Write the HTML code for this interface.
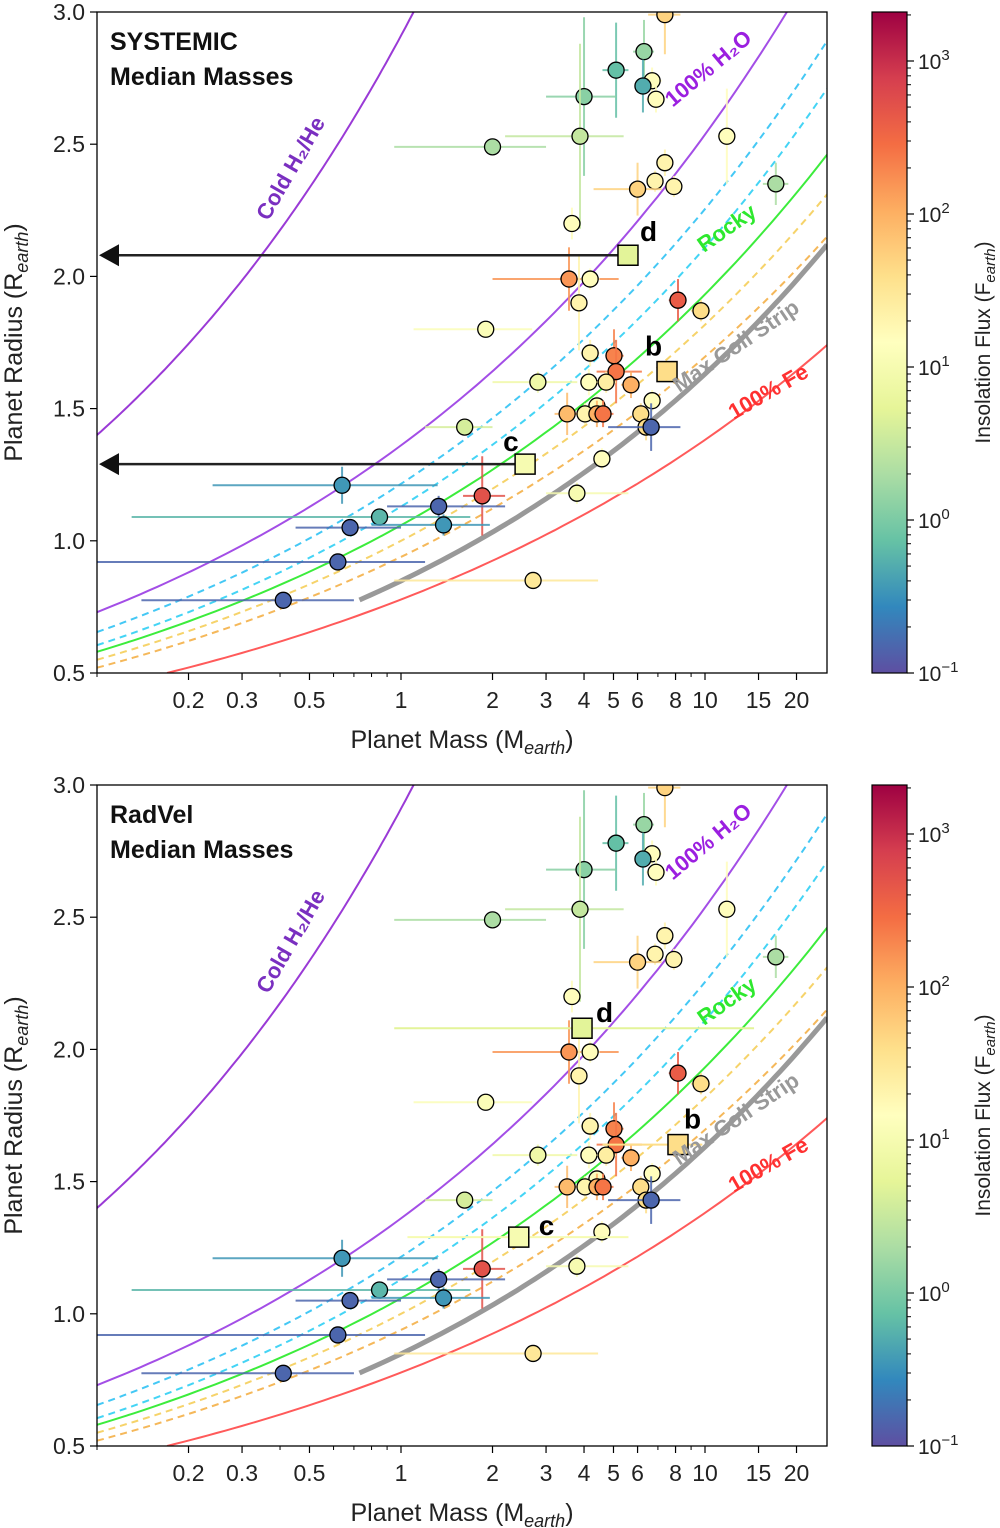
<!DOCTYPE html>
<html><head><meta charset="utf-8">
<style>
body{margin:0;background:#fff;}
svg{display:block;font-family:"Liberation Sans","DejaVu Sans",sans-serif;}
</style></head>
<body>
<svg id="chart" width="1000" height="1528" viewBox="0 0 1000 1528" xmlns="http://www.w3.org/2000/svg">
<defs>
<linearGradient id="cmap" x1="0" y1="1" x2="0" y2="0">
<stop offset="0" stop-color="#5e4fa2"/><stop offset="0.1" stop-color="#3288bd"/>
<stop offset="0.2" stop-color="#66c2a5"/><stop offset="0.3" stop-color="#abdda4"/>
<stop offset="0.4" stop-color="#e6f598"/><stop offset="0.5" stop-color="#ffffbf"/>
<stop offset="0.6" stop-color="#fee08b"/><stop offset="0.7" stop-color="#fdae61"/>
<stop offset="0.8" stop-color="#f46d43"/><stop offset="0.9" stop-color="#d53e4f"/>
<stop offset="1" stop-color="#9e0142"/>
</linearGradient>
</defs>
</svg>
<script>
// ---- data ----
const planetMass = [7.38,6.3,5.1,6.7,6.25,6.9,4.0,3.88,2.0,11.8,7.38,6.85,7.9,6.0,17.1,3.65,3.57,4.19,3.85,8.15,9.7,1.9,4.19,5.02,5.1,2.82,4.15,4.73,5.71,6.7,4.41,3.52,4.03,4.41,4.62,6.15,6.4,6.65,1.62,4.58,1.85,3.79,0.64,0.85,1.33,1.38,0.68,0.62,2.72,0.41];
const planetRadius = [2.99,2.85,2.78,2.74,2.72,2.67,2.68,2.53,2.49,2.53,2.43,2.36,2.34,2.33,2.35,2.20,1.99,1.99,1.90,1.91,1.87,1.80,1.71,1.70,1.64,1.60,1.60,1.60,1.59,1.53,1.51,1.48,1.48,1.48,1.48,1.48,1.43,1.43,1.43,1.31,1.17,1.18,1.21,1.09,1.13,1.06,1.05,0.92,0.85,0.775];
const planetFlux = [50,1.5,0.7,15,0.5,15,1.2,3,2,15,20,20,20,50,2,15,150,15,20,400,40,12,20,200,250,8,15,25,100,15,15,80,20,100,250,40,40,0.15,4,15,500,10,0.35,0.6,0.15,0.35,0.15,0.15,30,0.15];
const massLo = [6.5,5.8,4.6,6.2,5.9,6.4,3.0,2.2,0.95,11.0,7.0,6.5,7.5,4.3,15.5,3.5,2.0,3.9,3.6,7.6,9.0,1.1,3.9,4.7,4.4,2.0,3.9,4.4,5.3,6.3,4.1,3.2,3.8,4.2,4.3,5.8,6.0,4.8,1.2,4.3,1.6,3.0,0.24,0.13,0.9,0.8,0.45,0.1,0.95,0.14];
const massHi = [8.3,6.8,5.6,7.2,6.6,7.4,5.1,5.4,3.0,12.6,7.8,7.2,8.3,7.2,18.8,3.8,5.2,4.5,4.1,8.7,10.4,2.7,4.5,5.4,6.2,3.8,4.4,5.1,6.1,7.1,4.7,3.9,4.3,4.6,5.0,6.5,6.8,8.3,2.0,4.9,2.2,5.6,1.32,1.69,2.2,1.96,1.0,1.2,4.45,0.7];
const radErr = [0.15,0.12,0.18,0.05,0.1,0.05,0.3,0.35,0.03,0.18,0.05,0.04,0.04,0.1,0.08,0.06,0.12,0.04,0.18,0.08,0.04,0.03,0.05,0.1,0.12,0.04,0.05,0.04,0.05,0.04,0.04,0.08,0.04,0.05,0.05,0.04,0.05,0.09,0.03,0.04,0.15,0.04,0.07,0.03,0.04,0.04,0.03,0.03,0.03,0.03];
// target planets b, c, d
const targetNames = ["d","b","c"];
const targetRadius = [2.08,1.64,1.29];
const targetFlux = [5,40,10];
const targetMassSystemic = [5.58,7.5,2.56];
const targetMassRadVel = [3.94,8.15,2.44];
const targetLoRadVel = [0.95,4.6,1.05];
const targetHiRadVel = [14.5,9.8,5.6];
// composition curves: [mass, radius] endpoints
const curveNames = ["cold-h2he","h2o-100","h2o-50-dashed","h2o-25-dashed","rocky","rocky-fe-dashed-1","rocky-fe-dashed-2","max-coll-strip","fe-100"];
const curveP1 = [[0.1,1.4],[0.1,0.73],[0.1,0.655],[0.1,0.605],[0.1,0.58],[0.1,0.55],[0.1,0.52],[0.73,0.776],[0.17,0.5]];
const curveP2 = [[1.1,3.0],[18.6,3.0],[25.2,2.89],[25.2,2.71],[25.2,2.46],[25.2,2.31],[25.2,2.15],[25.2,2.12],[25.2,1.74]];
const xTicks = [0.2,0.3,0.5,1,2,3,4,5,6,8,10,15,20];
const yTicks = [0.5,1.0,1.5,2.0,2.5,3.0];
const cbTicks = [-1,0,1,2,3];

// ---- helpers ----
const NS="http://www.w3.org/2000/svg";
const svg=document.getElementById('chart');
function mk(tag,attrs,parent){const e=document.createElementNS(NS,tag);for(const k in attrs)e.setAttribute(k,attrs[k]);(parent||svg).appendChild(e);return e;}
const X0=97,X1=827;
const xS=m=>401+304*Math.log10(m);
const stops=[[94,79,162],[50,136,189],[102,194,165],[171,221,164],[230,245,152],[255,255,191],[254,224,139],[253,174,97],[244,109,67],[213,62,79],[158,1,66]];
function cmap(f){let t=(Math.log10(f)+1)/4.31;t=Math.max(0,Math.min(1,t))*10;const i=Math.min(9,Math.floor(t)),u=t-i;const a=stops[i],b=stops[i+1];return `rgb(${a.map((v,k)=>Math.round(v+(b[k]-v)*u)).join(',')})`;}
const curveColors=["#9a3ad6","#a34ee6","#44c8f5","#44d4f5","#3cec3c","#f6d36a","#f5b85a","#999999","#ff5a5a"];
const curveDash=["","","7,5","7,5","","7,5","7,5","",""];
const curveWidth=[2,2,2,2,2,2,2,5,2];

function panel(top, title, masses, tLo, tHi, arrows, labelPos){
  const Y0=top, H=661;
  const yS=r=>Y0+H-(r-0.5)*(H/2.5);
  const g=mk('g',{});
  
  
  const clipId='clip'+top;
  const cp=mk('clipPath',{id:clipId},g);mk('rect',{x:X0,y:Y0,width:X1-X0,height:H},cp);
  const plot=mk('g',{'clip-path':`url(#${clipId})`},g);
  
  
  curveNames.forEach((n,i)=>{
    const [m1,r1]=curveP1[i],[m2,r2]=curveP2[i];
    const b=Math.log(r2/r1)/Math.log(m2/m1);
    let d='';
    for(let k=0;k<=80;k++){const lm=Math.log10(m1)+(Math.log10(m2)-Math.log10(m1))*k/80;const m=10**lm;const r=r1*Math.pow(m/m1,b);d+=(k?'L':'M')+xS(m).toFixed(1)+','+yS(r).toFixed(1);}
    const p=mk('path',{d,fill:'none',stroke:curveColors[i],'stroke-width':curveWidth[i],'stroke-dasharray':curveDash[i]},plot);
    
    
  });
  planetMass.forEach((m,i)=>{
    const c=cmap(planetFlux[i]);const x=xS(m),y=yS(planetRadius[i]);
    const eg=mk('g',{stroke:c,'stroke-width':2,opacity:0.85},plot);
    mk('line',{x1:xS(massLo[i]),x2:xS(massHi[i]),y1:y,y2:y},eg);
    mk('line',{x1:x,x2:x,y1:yS(planetRadius[i]-radErr[i]),y2:yS(planetRadius[i]+radErr[i])},eg);
    const ci=mk('circle',{cx:x,cy:y,r:8,fill:c,stroke:'#000','stroke-width':1.3},plot);
    
    
  });
  masses.forEach((m,i)=>{
    const c=cmap(targetFlux[i]);const x=xS(m),y=yS(targetRadius[i]);
    if(tLo){mk('line',{x1:xS(tLo[i]),x2:xS(tHi[i]),y1:y,y2:y,stroke:c,'stroke-width':2},plot);}
    if(arrows && i!==1){
      const a=mk('line',{x1:x,y1:y,x2:X0+20,y2:y,stroke:'#222','stroke-width':2.5},plot);
      
      
      mk('polygon',{points:`${X0+2},${y} ${X0+22},${y-11} ${X0+22},${y+11}`,fill:'#111'},plot);
    }
    const s=mk('rect',{x:x-10,y:y-10,width:20,height:20,fill:c,stroke:'#000','stroke-width':1.5},plot);
    
    
    const t=mk('text',{x:x+labelPos[i][0],y:y+labelPos[i][1],'font-size':28,'font-weight':'bold',fill:'#000'},g);
    t.textContent=targetNames[i];
    
    
  });
  const labs=[["Cold H₂/He",297,172,-60,"#7a2fc0",'cold-h2he-label'],["100% H₂O",713,74,-40,"#9b1fe0",'h2o-label'],["Rocky",731,234,-35,"#2ee82e",'rocky-label'],["Max Coll Strip",740,352,-34,"#999",'max-coll-label'],["100% Fe",772,398,-30,"#ff3030",'fe-label']];
  labs.forEach(l=>{const yy=l[2]+Y0-12;const t=mk('text',{x:l[1],y:yy,'font-size':22,'font-weight':'bold',fill:l[4],'text-anchor':'middle',transform:`rotate(${l[3]} ${l[1]} ${yy})`},g);t.textContent=l[0];
    
    });
  mk('rect',{x:X0,y:Y0,width:X1-X0,height:H,fill:'none',stroke:'#000','stroke-width':1.3},g);
  title.forEach((s,i)=>{const t=mk('text',{x:110,y:Y0+38+i*35,'font-size':25,'font-weight':'bold',fill:'#111'},g);t.textContent=s;
    
    });
  const xb=Y0+H;
  for(let d=-1;d<=1;d++)for(let k=1;k<=9;k++){const m=k*10**d;const x=xS(m);if(x<X0||x>X1)continue;mk('line',{x1:x,x2:x,y1:xb,y2:xb+4,stroke:'#000','stroke-width':1},g);}
  xTicks.forEach(v=>{const x=xS(v);mk('line',{x1:x,x2:x,y1:xb,y2:xb+7,stroke:'#000','stroke-width':1.2},g);
    const t=mk('text',{x:x,y:xb+35,'font-size':23,'text-anchor':'middle',fill:'#222'},g);t.textContent=String(v);
    
    });
  yTicks.forEach(v=>{const y=yS(v);mk('line',{x1:X0-7,x2:X0,y1:y,y2:y,stroke:'#000','stroke-width':1.2},g);
    const t=mk('text',{x:X0-12,y:y+8,'font-size':23,'text-anchor':'end',fill:'#222'},g);t.textContent=v.toFixed(1);
    
    });
  const xl=mk('text',{x:462,y:xb+75,'font-size':25,'text-anchor':'middle',fill:'#222'},g);
  xl.innerHTML='Planet Mass (M<tspan font-size="18" dy="6" font-style="italic">earth</tspan><tspan dy="-6">)</tspan>';
  
  
  const yl=mk('text',{x:22,y:Y0+H/2,'font-size':25,'text-anchor':'middle',fill:'#222',transform:`rotate(-90 22 ${Y0+H/2})`},g);
  yl.innerHTML='Planet Radius (R<tspan font-size="18" dy="6" font-style="italic">earth</tspan><tspan dy="-6">)</tspan>';
  
  
  const cb=mk('rect',{x:872,y:Y0,width:35,height:H,fill:'url(#cmap)',stroke:'#000','stroke-width':1.2},g);
  
  
  const cy=lf=>Y0+H-(lf+1)*153;
  for(let d=-1;d<=3;d++)for(let k=2;k<=9;k++){const y=cy(d+Math.log10(k));if(y<Y0)continue;mk('line',{x1:907,x2:911,y1:y,y2:y,stroke:'#000'},g);}
  cbTicks.forEach(v=>{const y=cy(v);mk('line',{x1:907,x2:914,y1:y,y2:y,stroke:'#000','stroke-width':1.2},g);
    const t=mk('text',{x:918,y:y+8,'font-size':21,fill:'#222'},g);t.innerHTML='10<tspan font-size="15" dy="-9">'+(v<0?'−1':v)+'</tspan>';
    
    });
  const cl=mk('text',{x:990,y:Y0+H/2,'font-size':21,'text-anchor':'middle',fill:'#222',transform:`rotate(-90 990 ${Y0+H/2})`},g);
  cl.innerHTML='Insolation Flux (F<tspan font-size="15" dy="5" font-style="italic">earth</tspan><tspan dy="-5">)</tspan>';
  
  
}
panel(12,["SYSTEMIC","Median Masses"],targetMassSystemic,null,null,true,[[12,-14],[-22,-16],[-22,-13]]);
panel(785,["RadVel","Median Masses"],targetMassRadVel,targetLoRadVel,targetHiRadVel,false,[[14,-6],[6,-16],[20,-2]]);
</script>
</body></html>
